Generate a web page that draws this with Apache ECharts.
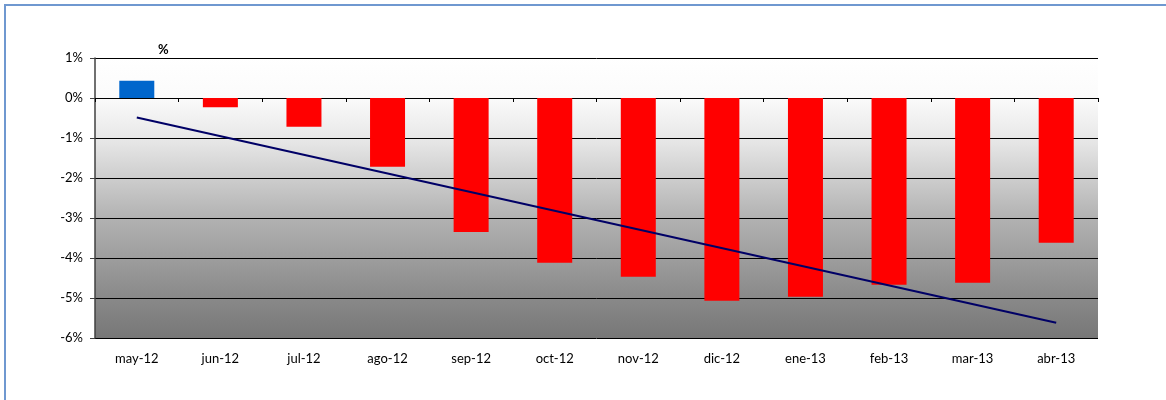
<!DOCTYPE html>
<html lang="es">
  <head>
    <meta charset="utf-8" />
    <title>Variación</title>
    <style>
      html, body { margin: 0; padding: 0; background: #fff; }
      #chart-container { width: 1166px; height: 400px; }
    </style>
  </head>
  <body>
    <div id="chart-container"></div>
    <script src="https://fastly.jsdelivr.net/npm/echarts@6/dist/echarts.min.js"></script>
    <script>
      var months = ["may-12", "jun-12", "jul-12", "ago-12", "sep-12", "oct-12",
                    "nov-12", "dic-12", "ene-13", "feb-13", "mar-13", "abr-13"];
      var values = [0.43, -0.23, -0.72, -1.72, -3.35, -4.12, -4.47, -5.07, -4.97, -4.67, -4.62, -3.62];
      // trend line read at its two ends only
      var trend = [-0.49, null, null, null, null, null, null, null, null, null, null, -5.62];
      var yTicks = [-6, -5, -4, -3, -2, -1, 0, 1];

      var dom = document.getElementById("chart-container");
      var myChart = echarts.init(dom, null, { renderer: "canvas" });
      var font = "Lato, 'Open Sans', sans-serif";

      var barData = values.map(function (v) {
        return { value: v, itemStyle: { color: v >= 0 ? "#0066cc" : "#ff0000" } };
      });

      var option = {
        animation: false,
        graphic: [
          {
            type: "rect",
            shape: { x: 5, y: 5, width: 1300, height: 600 },
            style: { fill: null, stroke: "#6f98d0", lineWidth: 2 },
            z: -10
          },
          {
            type: "text",
            left: 158,
            top: 43,
            style: { text: "%", font: "bold 13px " + font, fill: "#000" }
          }
        ],
        grid: {
          left: 95,
          right: 68,
          top: 58,
          bottom: 62,
          show: true,
          borderWidth: 0,
          backgroundColor: new echarts.graphic.LinearGradient(0, 0, 0, 1, [
            { offset: 0, color: "#ffffff" },
            { offset: 0.14, color: "#fbfbfb" },
            { offset: 0.3, color: "#e6e6e6" },
            { offset: 0.57, color: "#b2b2b2" },
            { offset: 0.85, color: "#8a8a8a" },
            { offset: 1, color: "#777777" }
          ])
        },
        xAxis: [
          {
            type: "category",
            data: months,
            position: "bottom",
            axisLine: { show: false, onZero: false },
            axisTick: { show: false },
            axisLabel: { color: "#000", fontSize: 13, fontFamily: font, margin: 14 }
          },
          {
            type: "category",
            data: months,
            position: "bottom",
            axisLine: { show: true, onZero: true, lineStyle: { color: "#000", width: 1 } },
            axisTick: { show: true, length: 4, lineStyle: { color: "#000" } },
            axisLabel: { show: false }
          }
        ],
        yAxis: {
          type: "value",
          min: yTicks[0],
          max: yTicks[yTicks.length - 1],
          interval: 1,
          axisLine: { show: true, lineStyle: { color: "#404040", width: 1.5 } },
          axisTick: { show: true, length: 5, lineStyle: { color: "#404040" } },
          axisLabel: {
            color: "#000",
            fontSize: 13,
            fontFamily: font,
            margin: 12,
            formatter: function (v) { return v + "%"; }
          },
          splitLine: { show: true, lineStyle: { color: "#000", width: 1 } }
        },
        series: [
          {
            type: "bar",
            data: barData,
            barWidth: 35,
            xAxisIndex: 0
          },
          {
            type: "line",
            data: trend,
            xAxisIndex: 0,
            connectNulls: true,
            showSymbol: false,
            symbol: "none",
            lineStyle: { color: "#000066", width: 2 },
            z: 5
          }
        ]
      };

      myChart.setOption(option);
      window.addEventListener("resize", myChart.resize);
    </script>
  </body>
</html>
